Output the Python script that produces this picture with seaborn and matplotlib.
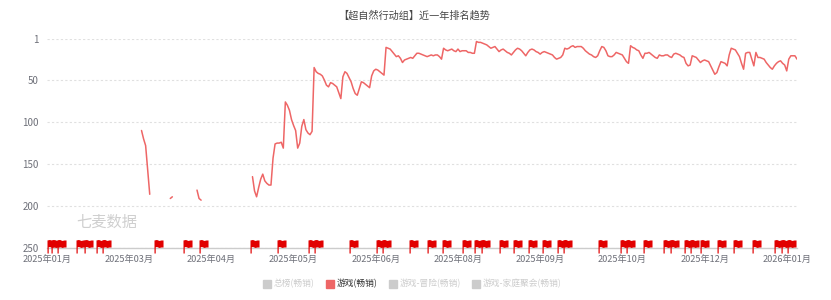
import numpy as np
import pandas as pd
import matplotlib
matplotlib.use("Agg")
import matplotlib.pyplot as plt
from matplotlib.path import Path
from matplotlib.lines import Line2D
import seaborn as sns

# ---------------- data ----------------
title = "【超自然行动组】近一年排名趋势"
axis_start = "2025-01-20"
axis_end = "2026-01-20"
tick_every_days = 40
y_ticks = [1, 50, 100, 150, 200, 250]

seg_starts = ["2025-03-07", "2025-03-21", "2025-04-03", "2025-04-30"]
seg1 = [110, 120, 128, 157, 186]
seg2 = [191, 189]
seg3 = [181, 191, 193]
seg4 = [
    165, 182, 189, 178, 168, 162, 170, 173, 175, 175,
    143, 126, 125, 125, 124, 131, 76, 80, 86, 97,
    104, 110, 131, 125, 105, 97, 109, 113, 115, 111,
    35, 40, 42, 43, 45, 50, 56, 58, 53, 54,
    56, 58, 65, 72, 46, 40, 42, 47, 52, 60,
    66, 68, 60, 52, 53, 55, 57, 59, 45, 39,
    37, 38, 40, 42, 44, 11, 12, 13, 16, 19,
    22, 21, 24, 29, 26, 25, 24, 23, 24, 21,
    18, 18, 19, 20, 21, 22, 21, 20, 21, 20,
    20, 22, 25, 12, 14, 15, 14, 13, 15, 16,
    13, 16, 15, 15, 15, 17, 17, 18, 18, 4,
    5, 5, 6, 7, 8, 10, 12, 11, 10, 13,
    16, 14, 13, 15, 17, 18, 20, 17, 14, 12,
    13, 15, 18, 21, 17, 14, 13, 14, 16, 17,
    19, 17, 16, 17, 18, 19, 20, 23, 25, 24,
    23, 20, 12, 13, 12, 10, 9, 11, 10, 10,
    10, 12, 15, 17, 19, 20, 22, 23, 21, 15,
    10, 11, 15, 21, 22, 22, 20, 17, 18, 19,
    20, 24, 28, 30, 9, 11, 12, 14, 15, 20,
    24, 18, 18, 17, 19, 21, 23, 24, 20, 21,
    21, 20, 20, 22, 23, 19, 18, 19, 20, 22,
    23, 30, 33, 32, 21, 22, 23, 26, 29, 27,
    26, 27, 28, 33, 38, 43, 41, 34, 28, 29,
    30, 33, 20, 12, 13, 14, 18, 22, 30, 37,
    18, 17, 17, 25, 33, 17, 23, 23, 24, 25,
    29, 32, 35, 37, 33, 30, 28, 27, 30, 32,
    39, 25, 21, 21, 21, 25,
]

flag_dates = [
    "2025-01-20", "2025-01-22", "2025-01-25", "2025-02-03", "2025-02-07",
    "2025-02-13", "2025-02-16", "2025-03-13", "2025-03-27", "2025-04-04",
    "2025-04-29", "2025-05-12", "2025-05-27", "2025-05-30", "2025-06-16",
    "2025-06-29", "2025-07-02", "2025-07-15", "2025-07-24", "2025-07-31",
    "2025-08-10", "2025-08-16", "2025-08-19", "2025-08-28", "2025-09-04",
    "2025-09-11", "2025-09-18", "2025-09-25", "2025-09-28", "2025-10-15",
    "2025-10-26", "2025-10-29", "2025-11-06", "2025-11-16", "2025-11-19",
    "2025-11-26", "2025-11-29", "2025-12-04", "2025-12-12", "2025-12-20",
    "2025-12-29", "2026-01-09", "2026-01-12", "2026-01-15",
]

legend_labels = ["总榜(畅销)", "游戏(畅销)", "游戏-冒险(畅销)", "游戏-家庭聚会(畅销)"]
legend_active = [False, True, False, False]
watermark = "七麦数据"

# ---------------- styles ----------------
line_color = "#ee6666"
flag_color = "#e10000"
grid_color = "#e0e0e0"
label_color = "#6e7079"
inactive_color = "#cccccc"

frames = []
for k, (start, vals) in enumerate(zip(seg_starts, [seg1, seg2, seg3, seg4])):
    frames.append(pd.DataFrame({
        "date": pd.date_range(start, periods=len(vals), freq="D"),
        "rank": vals,
        "segment": k,
    }))
df = pd.concat(frames, ignore_index=True)

sns.set_style("white")
plt.rcParams["font.family"] = ["Noto Sans CJK SC", "DejaVu Sans"]

fig = plt.figure(figsize=(8.31, 3.0), dpi=100)
ax = fig.add_axes([47 / 831, 1 - 248 / 300, 750 / 831, 209 / 300])

sns.lineplot(data=df, x="date", y="rank", units="segment", estimator=None,
             color=line_color, linewidth=1.1, ax=ax, legend=False, zorder=3)

ax.set_xlim(pd.Timestamp(axis_start), pd.Timestamp(axis_end))
ax.set_ylim(250, 1)
ax.set_yticks(y_ticks)
ax.set_yticklabels([str(v) for v in y_ticks], fontsize=7, color=label_color)

xt = pd.date_range(axis_start, axis_end, freq=f"{tick_every_days}D")
ax.set_xticks(xt)
ax.set_xticklabels([d.strftime("%Y年%m月") for d in xt], fontsize=6.6, color=label_color)
ax.tick_params(axis="both", length=0)
ax.tick_params(axis="x", pad=5.2)
ax.tick_params(axis="y", pad=6)
ax.set_xlabel("")
ax.set_ylabel("")

ax.yaxis.grid(True, linestyle=(0, (2, 2)), color=grid_color, linewidth=0.8)
ax.xaxis.grid(False)
for s in ["top", "right", "left"]:
    ax.spines[s].set_visible(False)
ax.spines["bottom"].set_color("#cccccc")
ax.spines["bottom"].set_linewidth(1.0)

# flags
flag_verts = [(0, -5), (0, 8), (2.5, 8.5), (5, 7.5), (7, 8), (9, 8), (9, 1),
              (7, 1), (5, 0.5), (2.5, 1.5), (1.2, 1.2), (1.2, -5), (0, -5)]
flag_codes = [Path.MOVETO] + [Path.LINETO] * (len(flag_verts) - 2) + [Path.CLOSEPOLY]
flag_path = Path(flag_verts, flag_codes)
fd = pd.to_datetime(flag_dates)
ax.plot(fd, [250] * len(fd), linestyle="none", marker=flag_path, markersize=13,
        markeredgewidth=0, color=flag_color, clip_on=False, zorder=6)

# title
fig.text(414 / 831, 1 - 15 / 300, title, ha="center", va="center", fontsize=7.3, color="#464646")

# watermark
fig.text(107 / 831, 1 - 222 / 300, watermark, ha="center", va="center", fontsize=11, color="#cfcfcf")

# legend
handles = [Line2D([], [], linestyle="none", marker="s", markersize=6,
                  color=(line_color if a else inactive_color)) for a in legend_active]
leg = fig.legend(handles, legend_labels, loc="center", bbox_to_anchor=(412 / 831, 1 - 284 / 300),
                 ncol=4, frameon=False, fontsize=6.3, handletextpad=0.25, columnspacing=1.3,
                 handlelength=1.0, borderaxespad=0)
for t, a in zip(leg.get_texts(), legend_active):
    t.set_color("#333333" if a else inactive_color)

fig.savefig("out.png", dpi=100)
